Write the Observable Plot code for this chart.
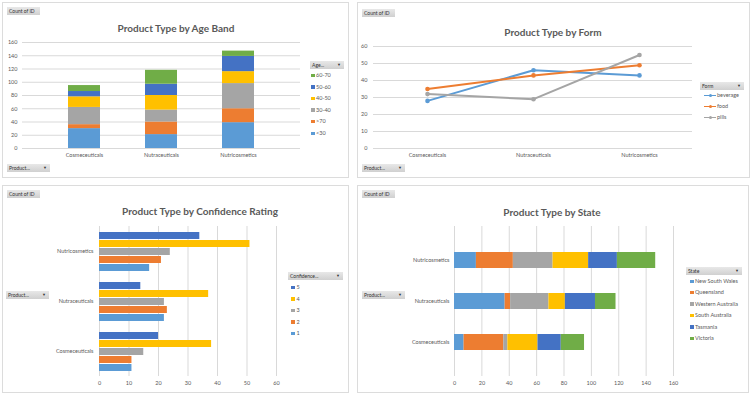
<!DOCTYPE html>
<html><head><meta charset="utf-8">
<script src="https://cdn.jsdelivr.net/npm/d3@7"></script>
<script src="https://cdn.jsdelivr.net/npm/@observablehq/plot@0.6"></script>
<style>
body{margin:0;background:#fff;font-family:Lato,"Open Sans",sans-serif;}
#page{position:relative;width:755px;height:396px;overflow:hidden;background:#fff;}
.panel{position:absolute;border:1px solid #dcdcdc;background:#fff;box-sizing:border-box;}
.title{position:absolute;font-weight:bold;font-size:10px;line-height:14px;color:#595959;white-space:nowrap;transform:translateX(-50%);}
.btn{position:absolute;background:linear-gradient(#e8e8e8,#d0d0d0);font-size:5px;color:#333;height:8px;line-height:8px;padding:0 2px;box-sizing:border-box;white-space:nowrap;}
.btn .arr{position:absolute;right:3px;top:0;font-size:4px;}
.leg{position:absolute;font-size:5.5px;line-height:8px;color:#595959;white-space:nowrap;}
.sw{position:absolute;width:3.5px;height:3.5px;top:2.5px}
#page svg{position:absolute;}
</style></head>
<body><div id="page"></div>
<script>
// ---------- data ----------
const products = ["Cosmeceuticals", "Nutraceuticals", "Nutricosmetics"];
const productsTopDown = ["Nutricosmetics", "Nutraceuticals", "Cosmeceuticals"];

const ageBands = ["<30", ">70", "30-40", "40-50", "50-60", "60-70"];
const ageCosmeceuticals = [30, 6, 26, 16, 8, 9];
const ageNutraceuticals = [21, 19, 18, 22, 17, 21];
const ageNutricosmetics = [39, 21, 38, 18, 23, 8];
const ageTicks = [0, 20, 40, 60, 80, 100, 120, 140, 160];

const forms = ["beverage", "food", "pills"];
const formBeverage = [28, 46, 43];
const formFood = [35, 43, 49];
const formPills = [32, 29, 55];
const formTicks = [0, 10, 20, 30, 40, 50, 60];

const ratings = ["1", "2", "3", "4", "5"];
const confCosmeceuticals = [11, 11, 15, 38, 20];
const confNutraceuticals = [22, 23, 22, 37, 14];
const confNutricosmetics = [17, 21, 24, 51, 34];
const confTicks = [0, 10, 20, 30, 40, 50, 60];

const states = ["New South Wales", "Queensland", "Western Australia", "South Australia", "Tasmania", "Victoria"];
const stateCosmeceuticals = [7, 29, 3, 22, 17, 17];
const stateNutraceuticals = [37, 4, 28, 12, 22, 15];
const stateNutricosmetics = [16, 27, 29, 26, 21, 28];
const stateTicks = [0, 20, 40, 60, 80, 100, 120, 140, 160];

const palette6 = ["#5B9BD5", "#ED7D31", "#A5A5A5", "#FFC000", "#4472C4", "#70AD47"];

// ---------- tables ----------
const ageTable = [];
[ageCosmeceuticals, ageNutraceuticals, ageNutricosmetics].forEach((arr, i) =>
  ageBands.forEach((b, j) => ageTable.push({product: products[i], band: b, count: arr[j]})));
const formTable = [];
[formBeverage, formFood, formPills].forEach((arr, i) =>
  products.forEach((p, j) => formTable.push({product: p, form: forms[i], count: arr[j]})));
const confTable = [];
[confCosmeceuticals, confNutraceuticals, confNutricosmetics].forEach((arr, i) =>
  ratings.forEach((r, j) => confTable.push({product: products[i], rating: r, count: arr[j]})));
const stateTable = [];
[stateCosmeceuticals, stateNutraceuticals, stateNutricosmetics].forEach((arr, i) =>
  states.forEach((s, j) => stateTable.push({product: products[i], state: s, count: arr[j]})));

const page = document.getElementById("page");
function el(cls, css, html) {
  const d = document.createElement("div");
  d.className = cls; Object.assign(d.style, css); if (html != null) d.innerHTML = html;
  page.appendChild(d); return d;
}
function place(svg, left, top) { svg.style.left = left + "px"; svg.style.top = top + "px"; page.appendChild(svg); }
const axStyle = {background: "transparent", fontSize: "5.5px", color: "#595959", fontFamily: "Lato, 'Open Sans', sans-serif", overflow: "visible"};
const grid = "#d9d9d9";

// panels
el("panel", {left: "2px", top: "2px", width: "347px", height: "176px"});
el("panel", {left: "357px", top: "2px", width: "393px", height: "176px"});
el("panel", {left: "2px", top: "185px", width: "347px", height: "208px"});
el("panel", {left: "357px", top: "185px", width: "392px", height: "208px"});

// ---------- chart 1 ----------
place(Plot.plot({
  width: 350, height: 180, marginLeft: 22, marginRight: 50, marginTop: 42, marginBottom: 32,
  style: axStyle,
  x: {domain: products, padding: 0.59, label: null, tickSize: 0, tickPadding: 5},
  y: {domain: [0, 160], ticks: ageTicks, label: null, tickSize: 0, tickPadding: 5},
  color: {domain: ageBands, range: palette6},
  marks: [
    Plot.ruleY(ageTicks, {stroke: grid}),
    Plot.barY(ageTable, {x: "product", y: "count", fill: "band"})
  ]
}), 0, 0);

// ---------- chart 2 ----------
place(Plot.plot({
  width: 393, height: 180, marginLeft: 16, marginRight: 58, marginTop: 46, marginBottom: 32,
  style: axStyle,
  x: {type: "point", domain: products, padding: 0.5, label: null, tickSize: 0, tickPadding: 5},
  y: {domain: [0, 60], ticks: formTicks, label: null, tickSize: 0, tickPadding: 6},
  color: {domain: forms, range: palette6.slice(0, 3)},
  marks: [
    Plot.ruleY(formTicks, {stroke: grid}),
    Plot.line(formTable, {x: "product", y: "count", stroke: "form", strokeWidth: 2}),
    Plot.dot(formTable, {x: "product", y: "count", fill: "form", r: 2.3})
  ]
}), 357, 0);

// ---------- chart 3 ----------
place(Plot.plot({
  width: 350, height: 210, marginLeft: 99, marginRight: 74, marginTop: 41, marginBottom: 19,
  style: axStyle,
  x: {domain: [0, 60], ticks: confTicks, label: null, tickSize: 0, tickPadding: 5},
  y: {domain: ratings.slice().reverse(), axis: null, paddingInner: 0.14, paddingOuter: 0.51},
  fy: {domain: productsTopDown, padding: 0, axis: "left", label: null, tickSize: 0, tickPadding: 6},
  color: {domain: ratings, range: palette6.slice(0, 5)},
  marks: [
    Plot.ruleX(confTicks, {stroke: grid}),
    Plot.barX(confTable, {x: "count", y: "rating", fy: "product", fill: "rating"})
  ]
}), 0, 185);

// ---------- chart 4 ----------
place(Plot.plot({
  width: 393, height: 210, marginLeft: 97, marginRight: 77, marginTop: 41, marginBottom: 19,
  style: axStyle,
  x: {domain: [0, 160], ticks: stateTicks, label: null, tickSize: 0, tickPadding: 5},
  y: {domain: productsTopDown, padding: 0.6, label: null, tickSize: 0, tickPadding: 5},
  color: {domain: states, range: palette6},
  marks: [
    Plot.ruleX(stateTicks, {stroke: grid}),
    Plot.barX(stateTable, {x: "count", y: "product", fill: "state"})
  ]
}), 357, 185);

// ---------- titles ----------
el("title", {left: "176px", top: "21px"}, "Product Type by Age Band");
el("title", {left: "553px", top: "25px"}, "Product Type by Form");
el("title", {left: "200px", top: "204px"}, "Product Type by Confidence Rating");
el("title", {left: "552px", top: "205px"}, "Product Type by State");

// ---------- buttons ----------
function btn(text, left, top, width, arrow) {
  el("btn", {left: left + "px", top: top + "px", width: width + "px"},
    text + (arrow ? '<span class="arr">&#9660;</span>' : ""));
}
btn("Count of ID", 7, 7, 33, false);
btn("Product...", 7, 164, 43, true);
btn("Count of ID", 362, 9, 33, false);
btn("Product...", 362, 164, 43, true);
btn("Count of ID", 7, 190, 33, false);
btn("Product...", 6, 291, 43, true);
btn("Count of ID", 362, 190, 33, false);
btn("Product...", 362, 291, 43, true);

// ---------- legends ----------
btn("Age...", 310, 61, 34, true);
ageBands.slice().reverse().forEach((b, i) => {
  const c = palette6[ageBands.indexOf(b)];
  el("leg", {left: "311px", top: (71 + i * 11.6) + "px"}, `<span class="sw" style="left:0;background:${c}"></span><span style="margin-left:5px">${b}</span>`);
});
btn("Form", 700, 82, 44, true);
forms.forEach((f, i) => {
  const c = palette6[i];
  el("leg", {left: "704px", top: (91 + i * 11) + "px"},
    `<span style="position:absolute;left:0;top:3.5px;width:12px;height:1.5px;background:${c}"></span><span style="position:absolute;left:4.5px;top:2.5px;width:3.5px;height:3.5px;border-radius:50%;background:${c}"></span><span style="margin-left:13px">${f}</span>`);
});
btn("Confidence...", 288, 272, 55, true);
ratings.slice().reverse().forEach((r, i) => {
  const c = palette6[ratings.indexOf(r)];
  el("leg", {left: "291px", top: (283 + i * 11.5) + "px"}, `<span class="sw" style="left:0;background:${c}"></span><span style="margin-left:5.5px">${r}</span>`);
});
btn("State", 686, 267, 56, true);
states.forEach((s, i) => {
  const c = palette6[i];
  el("leg", {left: "690px", top: (277 + i * 11.4) + "px"}, `<span class="sw" style="left:0;background:${c}"></span><span style="margin-left:5px">${s}</span>`);
});
</script>
</body></html>
